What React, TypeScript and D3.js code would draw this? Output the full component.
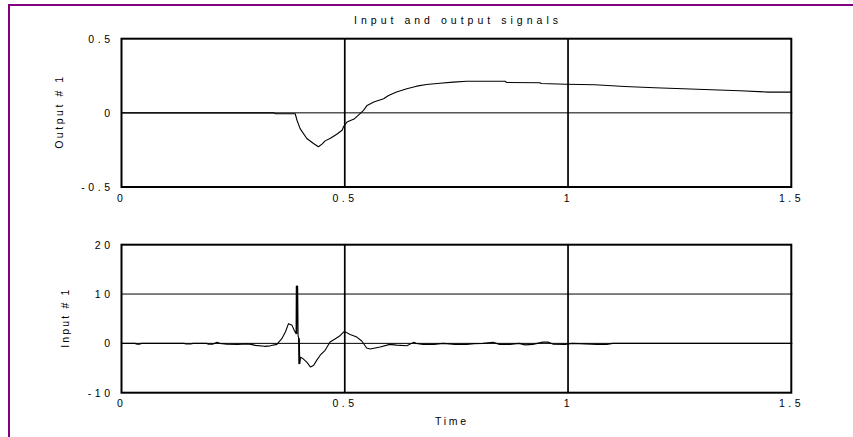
import React from "react";
import * as d3 from "d3";

const outT = [0, 0.34, 0.345, 0.389, 0.393, 0.4, 0.415, 0.43, 0.441, 0.449, 0.456, 0.467, 0.482, 0.494, 0.497, 0.505, 0.522, 0.53, 0.542, 0.55, 0.565, 0.587, 0.598, 0.616, 0.639, 0.661, 0.683, 0.713, 0.743, 0.773, 0.859, 0.862, 0.937, 0.94, 0.996, 1.06, 1.127, 1.194, 1.258, 1.321, 1.385, 1.448, 1.5];
const outV = [0, 0, -0.006, -0.006, -0.05, -0.106, -0.173, -0.207, -0.229, -0.211, -0.189, -0.173, -0.144, -0.117, -0.095, -0.062, -0.039, -0.017, 0.017, 0.05, 0.073, 0.095, 0.117, 0.14, 0.162, 0.18, 0.191, 0.2, 0.207, 0.213, 0.213, 0.205, 0.203, 0.198, 0.193, 0.189, 0.178, 0.169, 0.162, 0.156, 0.149, 0.14, 0.14];

const inT = [0, 0.03, 0.035, 0.04, 0.045, 0.14, 0.145, 0.155, 0.16, 0.19, 0.195, 0.205, 0.214, 0.22, 0.236, 0.26, 0.28, 0.29, 0.3, 0.32, 0.333, 0.348, 0.359, 0.367, 0.374, 0.382, 0.387, 0.391, 0.3915, 0.3925, 0.3935, 0.3945, 0.3955, 0.3965, 0.3972, 0.3982, 0.3992, 0.4, 0.401, 0.405, 0.41, 0.415, 0.423, 0.43, 0.437, 0.445, 0.456, 0.467, 0.479, 0.49, 0.499, 0.512, 0.527, 0.538, 0.549, 0.557, 0.579, 0.601, 0.616, 0.639, 0.654, 0.66, 0.675, 0.7, 0.72, 0.747, 0.773, 0.79, 0.81, 0.832, 0.847, 0.87, 0.89, 0.904, 0.921, 0.944, 0.955, 0.966, 0.993, 1.01, 1.065, 1.087, 1.1, 1.5];
const inV = [0, 0, -0.15, -0.15, 0, 0, -0.12, -0.12, 0, 0, -0.15, -0.15, 0.2, 0, -0.15, -0.2, -0.1, -0.2, -0.4, -0.6, -0.5, -0.2, 0.95, 2.3, 4.0, 3.65, 2.6, 1.95, 11.6, 2.0, 11.6, 11.6, 1.5, 1.2, -4.1, 1.0, -4.1, -3.6, -2.8, -3.0, -3.4, -3.8, -4.8, -4.5, -3.45, -2.4, -1.4, 0.26, 0.95, 1.6, 2.43, 1.8, 1.28, 0.47, -0.95, -1.15, -0.75, -0.2, -0.35, -0.47, 0.2, 0, -0.2, -0.2, 0, -0.2, -0.2, -0.05, 0, 0.2, -0.2, -0.2, 0, -0.3, -0.2, 0.25, 0.25, -0.15, -0.2, 0, -0.2, -0.2, 0, 0];

const xTicks = [0, 0.5, 1, 1.5];
const xTickLabels = ["0", "0.5", "1", "1.5"];
const outTicks = [-0.5, 0, 0.5];
const outTickLabels = ["-0.5", "0", "0.5"];
const inTicks = [-10, 0, 10, 20];
const inTickLabels = ["-10", "0", "10", "20"];
const outGrid = [0];
const inGrid = [0, 10];
const xGrid = [0.5, 1];

const FONT = "'Liberation Sans', Arial, Helvetica, sans-serif";
const FS = 10.5;

function labelWidth(s: string) {
  let w = 0;
  for (const c of s) w += c === "." ? 2.9 : c === "-" ? 3.5 : 5.8;
  return w + (s.length - 1) * 3.6;
}

const L = 121.5;
const R = 791.3;

type PanelProps = {
  top: number;
  bottom: number;
  yDomain: [number, number];
  yTicks: number[];
  yTickLabels: string[];
  hGrid: number[];
  t: number[];
  v: number[];
  ylabel: string;
  ylabelX: number;
  ylabelLen: number;
  xLabelY: number;
};

function Panel(p: PanelProps) {
  const x = d3.scaleLinear().domain([0, 1.5]).range([L, R]);
  const y = d3.scaleLinear().domain(p.yDomain).range([p.bottom, p.top]);
  const line = d3
    .line<number>()
    .x((_, i) => x(p.t[i]))
    .y((d) => y(d));
  const mid = (p.top + p.bottom) / 2;
  return (
    <g>
      {p.hGrid.map((g) => (
        <line key={"h" + g} x1={L} x2={R + 1} y1={y(g)} y2={y(g)} stroke="#000" strokeWidth={1} />
      ))}
      {xGrid.map((g) => (
        <line key={"v" + g} x1={x(g)} x2={x(g)} y1={p.top} y2={p.bottom} stroke="#000" strokeWidth={1.7} />
      ))}
      <path d={line(p.v) || ""} fill="none" stroke="#000" strokeWidth={1.1} strokeLinejoin="round" />
      <rect x={L} y={p.top} width={R - L} height={p.bottom - p.top} fill="none" stroke="#000" strokeWidth={2} />
      {p.yTicks.map((tk, i) => {
        const lab = p.yTickLabels[i];
        return (
          <text
            key={"yt" + tk}
            x={110 - labelWidth(lab)}
            y={y(tk) + 4}
            fontFamily={FONT}
            fontSize={FS}
            textLength={labelWidth(lab)}
            lengthAdjust="spacing"
            fill="#000"
          >
            {lab}
          </text>
        );
      })}
      {xTicks.map((tk, i) => {
        const lab = xTickLabels[i];
        const w = labelWidth(lab);
        return (
          <text
            key={"xt" + tk}
            x={x(tk) - w / 2 - 1.5}
            y={p.xLabelY}
            fontFamily={FONT}
            fontSize={FS}
            textLength={w}
            lengthAdjust="spacing"
            fill="#000"
          >
            {lab}
          </text>
        );
      })}
      <text
        transform={`translate(${p.ylabelX},${mid + p.ylabelLen / 2}) rotate(-90)`}
        fontFamily={FONT}
        fontSize={FS}
        textLength={p.ylabelLen}
        lengthAdjust="spacing"
        fill="#000"
      >
        {p.ylabel}
      </text>
    </g>
  );
}

export default function App() {
  return (
    <svg
      width={853}
      height={437}
      style={{ position: "absolute", left: 0, top: 0, background: "#fff" }}
    >
      <rect x={0} y={0} width={853} height={437} fill="#fff" />
      <rect x={9} y={5} width={900} height={500} fill="none" stroke="#800080" strokeWidth={2} />
      <text
        x={354}
        y={24}
        fontFamily={FONT}
        fontSize={FS}
        textLength={204}
        lengthAdjust="spacing"
        fill="#000"
      >
        Input and output signals
      </text>
      <Panel
        top={38.7}
        bottom={187}
        yDomain={[-0.5, 0.5]}
        yTicks={outTicks}
        yTickLabels={outTickLabels}
        hGrid={outGrid}
        t={outT}
        v={outV}
        ylabel="Output # 1"
        ylabelX={63}
        ylabelLen={72}
        xLabelY={202}
      />
      <Panel
        top={244.7}
        bottom={392.7}
        yDomain={[-10, 20]}
        yTicks={inTicks}
        yTickLabels={inTickLabels}
        hGrid={inGrid}
        t={inT}
        v={inV}
        ylabel="Input # 1"
        ylabelX={69}
        ylabelLen={58}
        xLabelY={407}
      />
      <text
        x={435}
        y={425}
        fontFamily={FONT}
        fontSize={FS}
        textLength={31}
        lengthAdjust="spacing"
        fill="#000"
      >
        Time
      </text>
    </svg>
  );
}
